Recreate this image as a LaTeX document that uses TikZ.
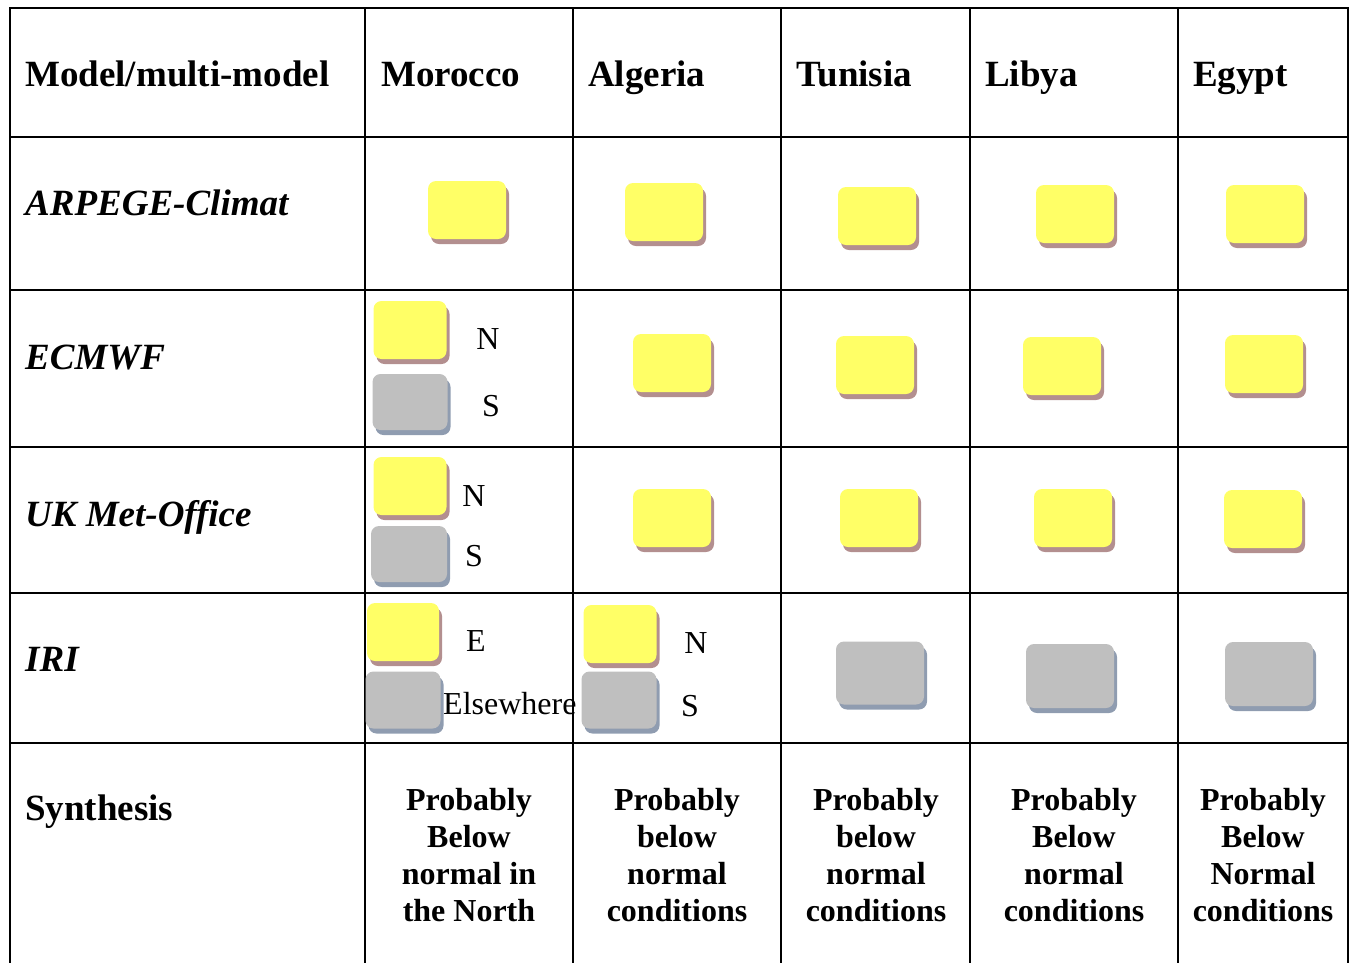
\documentclass[tikz,border=0pt]{standalone}
\usepackage{fontspec}
\setmainfont{Liberation Serif}
\usetikzlibrary{shadows}
\definecolor{boxyellow}{HTML}{FFFF66}
\definecolor{yellowshade}{HTML}{B38F8F}
\definecolor{boxgray}{HTML}{BFBFBF}
\definecolor{grayshade}{HTML}{8F9CB0}

\begin{document}
\begin{tikzpicture}[x=1pt,y=-1pt,
  grid/.style={line width=2pt, line cap=rect},
  ybox/.style={rounded corners=8pt, fill=boxyellow, inner sep=0pt, minimum width=78pt, minimum height=58pt,
    drop shadow={shadow xshift=3pt, shadow yshift=-5pt, fill=yellowshade, opacity=1}},
  gbox/.style={rounded corners=8pt, fill=boxgray, inner sep=0pt, minimum width=76pt, minimum height=57pt,
    drop shadow={shadow xshift=3pt, shadow yshift=-5pt, fill=grayshade, opacity=1}},
  head/.style={anchor=base west, inner sep=0pt, font=\fontsize{37}{41}\selectfont\bfseries},
  model/.style={anchor=base west, inner sep=0pt, font=\fontsize{37}{41}\selectfont\bfseries\itshape},
  lbl/.style={anchor=base, inner sep=0pt, font=\fontsize{32}{36}\selectfont},
  synth/.style={anchor=north, inner sep=0pt, align=center, font=\fontsize{32}{37}\selectfont\bfseries}]

   \useasboundingbox (0,0) rectangle (1356,962);

   % table rules
   \foreach \y in {8,137,290,447,593,743} \draw[grid] (10,\y) -- (1348,\y);
   \foreach \x in {10,365,573,781,970,1178,1348} \draw[grid] (\x,8) -- (\x,962);

   % header row
   \node[head] (hmodel) at (25,86) {Model/multi-model};
   \node[head] (hmor) at (381,86) {Morocco};
   \node[head] (halg) at (588,86) {Algeria};
   \node[head] (htun) at (796,86) {Tunisia};
   \node[head] (hlib) at (985,86) {Libya};
   \node[head] (hegy) at (1193,86) {Egypt};

   % model names
   \node[model] (arp) at (25,215) {ARPEGE-Climat};
   \node[model] (ecm) at (25,369) {ECMWF};
   \node[model] (ukm) at (25,526) {UK Met-Office};
   \node[model] (iri) at (25,671) {IRI};
   \node[head] (syn) at (25,820) {Synthesis};

   % ARPEGE-Climat
   \node[ybox] (arpMor) at (467,210) {};
   \node[ybox] (arpAlg) at (664,212) {};
   \node[ybox] (arpTun) at (877,216) {};
   \node[ybox] (arpLib) at (1075,214) {};
   \node[ybox] (arpEgy) at (1265,214) {};

   % ECMWF
   \node[ybox, minimum width=73pt] (ecmMorN) at (410,330) {};
   \node[gbox, minimum width=75pt, minimum height=56pt] (ecmMorS) at (410,402) {};
   \node[lbl] (ecmN) at (488,349) {N};
   \node[lbl] (ecmS) at (491,416) {S};
   \node[ybox] (ecmAlg) at (672,363) {};
   \node[ybox] (ecmTun) at (875,365) {};
   \node[ybox] (ecmLib) at (1062,366) {};
   \node[ybox] (ecmEgy) at (1264,364) {};

   % UK Met-Office
   \node[ybox, minimum width=73pt] (ukmMorN) at (410,486) {};
   \node[gbox, minimum height=56pt] (ukmMorS) at (409,554) {};
   \node[lbl] (ukmN) at (474,506) {N};
   \node[lbl] (ukmS) at (474,566) {S};
   \node[ybox] (ukmAlg) at (672,518) {};
   \node[ybox] (ukmTun) at (879,518) {};
   \node[ybox] (ukmLib) at (1073,518) {};
   \node[ybox] (ukmEgy) at (1263,519) {};

   % IRI
   \node[ybox, minimum width=72pt] (iriMorE) at (403,632) {};
   \node[gbox, minimum width=75pt] (iriMorX) at (403,700) {};
   \node[lbl] (iriE) at (476,651) {E};
   \node[lbl, anchor=base west] (iriX) at (443,714) {Elsewhere};
   \node[ybox, minimum width=73pt] (iriAlgN) at (620,634) {};
   \node[gbox, minimum width=75pt] (iriAlgS) at (619,700) {};
   \node[lbl] (iriN) at (696,653) {N};
   \node[lbl] (iriS) at (690,716) {S};
   \node[gbox, minimum width=88pt, minimum height=63pt] (iriTun) at (880,673) {};
   \node[gbox, minimum width=88pt, minimum height=64pt] (iriLib) at (1070,676) {};
   \node[gbox, minimum width=88pt, minimum height=64pt] (iriEgy) at (1269,674) {};

   % synthesis
   \node[synth] (synMor) at (469,788) {Probably\\Below\\normal in\\the North};
   \node[synth] (synAlg) at (677,788) {Probably\\below\\normal\\conditions};
   \node[synth] (synTun) at (876,788) {Probably\\below\\normal\\conditions};
   \node[synth] (synLib) at (1074,788) {Probably\\Below\\normal\\conditions};
   \node[synth] (synEgy) at (1263,788) {Probably\\Below\\Normal\\conditions};

\end{tikzpicture}
\end{document}
